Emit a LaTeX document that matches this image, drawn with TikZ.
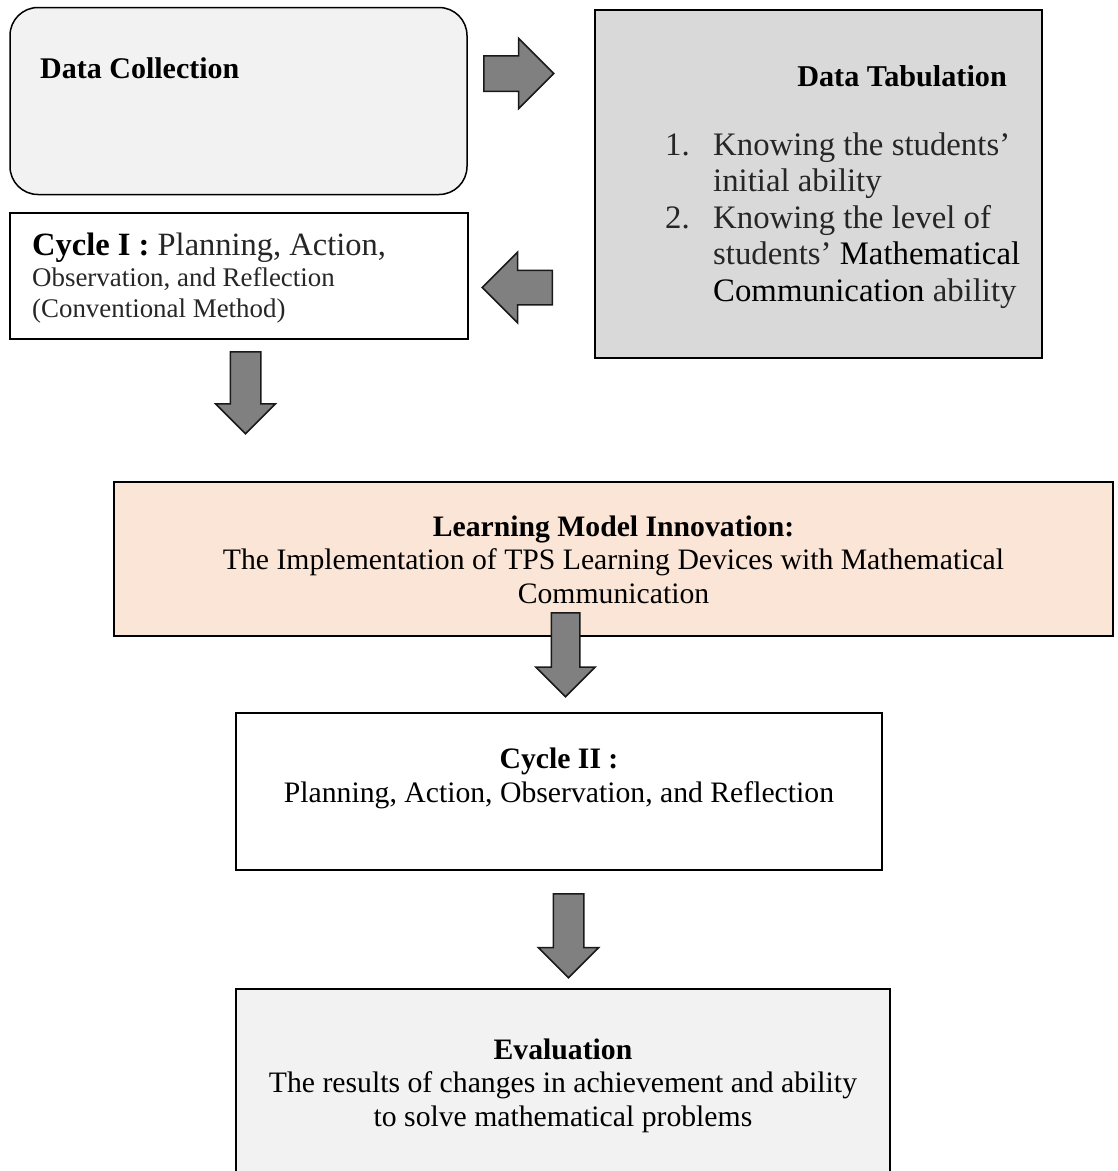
\documentclass[tikz,border=0pt]{standalone}
\usepackage{fontspec}
\setmainfont{Liberation Serif}
\usetikzlibrary{shapes.arrows}
\definecolor{lightbox}{HTML}{F2F2F2}
\definecolor{tabbox}{HTML}{D9D9D9}
\definecolor{peachbox}{HTML}{FBE5D6}
\definecolor{arrowgray}{HTML}{808080}
\definecolor{txtgray}{HTML}{262626}

\begin{document}
\begin{tikzpicture}
[
x=1pt,y=-1pt,
box/.style 2 args={draw,line width=2pt,inner sep=0pt,minimum width=#1,minimum height=#2},
roundbox/.style 2 args={box={#1}{#2},line width=1.5pt,rounded corners=28pt},
fatarrow/.style 2 args={single arrow,draw=black!90,fill=arrowgray,line width=1.5pt,
            inner sep=#1,single arrow head extend=#2,single arrow head indent=0pt,
            minimum width=1pt,anchor=tail},
boxtext/.style={inner sep=0pt,font=\fontsize{29.7}{33.5}\selectfont,align=center},
]
\useasboundingbox (0,0) rectangle (1118,1171);

%Place the boxes
\node[roundbox={457pt}{187pt},fill=lightbox] (collect) at (238.5,101) {};
\node[box={447pt}{348pt},fill=tabbox] (tabulate) at (818.5,184) {};
\node[box={458pt}{126pt}] (cycleone) at (239,276) {};
\node[box={999pt}{154pt},fill=peachbox] (innovation) at (613.5,559) {};
\node[box={646pt}{157pt}] (cycletwo) at (559,791.5) {};
\node[box={654pt}{211pt},fill=lightbox] (evaluation) at (563,1094.5) {};

%Texts (base = last line)
\node[inner sep=0pt,anchor=base west,font=\fontsize{30}{33}\selectfont\bfseries] (collecttitle) at (40,78) {Data Collection};
\node[inner sep=0pt,anchor=base east,font=\fontsize{30.2}{33}\selectfont\bfseries] (tabtitle) at (1007,86) {Data Tabulation};
\node[inner sep=0pt,anchor=base west,align=left,text=txtgray,font=\fontsize{32.8}{36.5}\selectfont] (tablist) at (665,301)
  {\makebox[48pt][l]{1.}Knowing the students’\\
   \hspace*{48pt}initial ability\\
   \makebox[48pt][l]{2.}Knowing the level of\\
   \hspace*{48pt}students’ \textcolor{black}{Mathematical}\\
   \hspace*{48pt}\textcolor{black}{Communication} ability};
\node[inner sep=0pt,anchor=base west,align=left,text=txtgray,font=\fontsize{26.9}{31}\selectfont] (cycleonetext) at (32,317)
  {{\fontsize{32.5}{33}\selectfont\textcolor{black}{\bfseries Cycle I :} Planning, Action,}\\
   Observation, and Reflection\\
   (Conventional Method)};
\node[boxtext,anchor=base] (innovationtext) at (613.5,603)
  {\textbf{Learning Model Innovation:}\\
   The Implementation of TPS Learning Devices with Mathematical\\
   Communication};
\node[boxtext,anchor=base] (cycletwotext) at (559,802)
  {\textbf{Cycle II :}\\
   Planning, Action, Observation, and Reflection};
\node[boxtext,anchor=base] (evaluationtext) at (563,1126)
  {\textbf{Evaluation}\\
   The results of changes in achievement and ability\\
   to solve mathematical problems};

%Draw the arrows
\node[fatarrow={17pt}{17.5pt},minimum height=70pt] (toTab) at (483,73.5) {};
\node[fatarrow={16.5pt}{18pt},minimum height=70pt,rotate=180] (toCycleOne) at (553,287.5) {};
\node[fatarrow={14.5pt}{14.75pt},minimum height=82pt,rotate=-90] (toInnovation) at (245.5,351) {};
\node[fatarrow={13.5pt}{15.5pt},minimum height=84pt,rotate=-90] (toCycleTwo) at (565.5,612) {};
\node[fatarrow={14.5pt}{15pt},minimum height=84pt,rotate=-90] (toEvaluation) at (568.5,893) {};
\end{tikzpicture}
\end{document}
